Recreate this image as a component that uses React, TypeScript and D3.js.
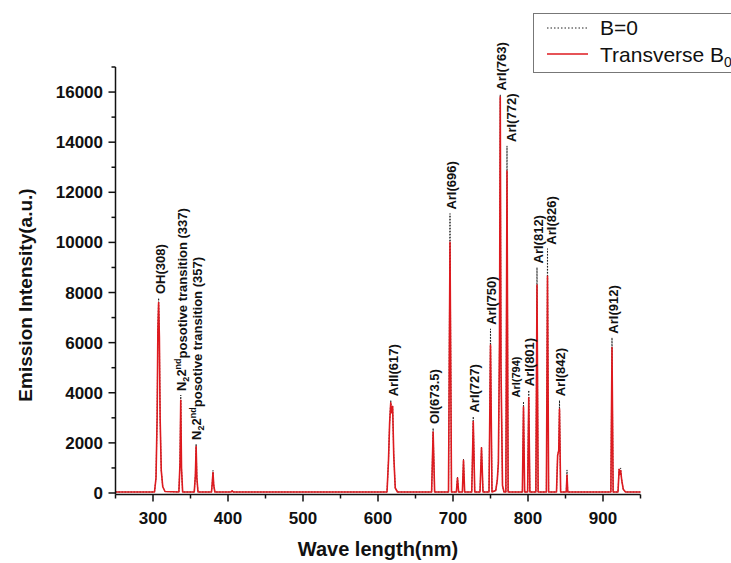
import React from "react";
import * as d3 from "d3";

// ---- data ----
const wavelength = [
  250, 302, 304, 305.5, 306.5, 307.5, 308.5, 309.5, 311, 313, 316,
  334.5, 336, 337, 338, 339.5,
  355, 356.5, 357.5, 358.5, 360,
  378, 379, 380, 381, 382.5,
  404, 405.5, 407,
  612, 614, 615.5, 617, 618, 619.5, 621, 623, 626,
  671.5, 673.5, 675.5,
  694, 696, 698,
  704.5, 706, 707.5,
  712.5, 714, 715.5,
  725, 727, 729,
  736, 738, 740,
  748, 750, 752,
  757, 759, 760.5, 762, 763, 764, 766, 768,
  770.5, 772, 773.5,
  792.5, 794, 795.5,
  799.5, 801, 802.5,
  810.5, 812, 813.5,
  824.5, 826, 827.5,
  838, 839.5, 841, 842, 843.5,
  851, 852, 853,
  910.5, 912, 913.5,
  920, 921.5, 922.5, 923.5, 925, 927, 930, 950,
];
const transverse = [
  40, 40, 600, 3000, 6500, 7600, 6200, 3000, 900, 250, 60,
  40, 1200, 3700, 1000, 40,
  40, 700, 1850, 600, 40,
  40, 400, 820, 300, 40,
  40, 90, 40,
  40, 1300, 2800, 3600, 3200, 3450, 1500, 200, 40,
  40, 2430, 40,
  40, 10000, 40,
  40, 600, 40,
  40, 1300, 40,
  40, 2850, 40,
  40, 1800, 40,
  40, 5900, 40,
  100, 500, 1200, 6000, 15800, 5000, 300, 40,
  40, 12850, 40,
  40, 3430, 40,
  40, 3800, 40,
  40, 8300, 40,
  40, 8650, 40,
  40, 1500, 1700, 3350, 40,
  40, 720, 40,
  40, 5800, 40,
  40, 950, 750, 900, 500, 150, 40, 40,
];
const bZero = [
  40, 40, 600, 3000, 6600, 7780, 6300, 3000, 900, 250, 60,
  40, 1200, 3910, 1000, 40,
  40, 700, 1960, 600, 40,
  40, 400, 900, 300, 40,
  40, 90, 40,
  40, 1300, 2800, 3700, 3250, 3500, 1500, 200, 40,
  40, 2590, 40,
  40, 11150, 40,
  40, 650, 40,
  40, 1350, 40,
  40, 3050, 40,
  40, 1850, 40,
  40, 6550, 40,
  100, 500, 1200, 6000, 15900, 5000, 300, 40,
  40, 13850, 40,
  40, 3650, 40,
  40, 4100, 40,
  40, 9000, 40,
  40, 9750, 40,
  40, 1500, 1700, 3700, 40,
  40, 920, 40,
  40, 6200, 40,
  40, 950, 800, 1000, 500, 150, 40, 40,
];

const labelWl = [308, 337, 357, 617, 673.5, 696, 727, 750, 763, 772, 794, 801, 812, 826, 842, 912];
const labelText = [
  "OH(308)", "N2_337", "N2_357", "ArII(617)", "OI(673.5)", "ArI(696)", "ArI(727)", "ArI(750)",
  "ArI(763)", "ArI(772)", "ArI(794)", "ArI(801)", "ArI(812)", "ArI(826)", "ArI(842)", "ArI(912)",
];

const xTicks = [300, 400, 500, 600, 700, 800, 900];
const xMinor = [250, 350, 450, 550, 650, 750, 850, 950];
const yTicks = [0, 2000, 4000, 6000, 8000, 10000, 12000, 14000, 16000];
const yMinor = [1000, 3000, 5000, 7000, 9000, 11000, 13000, 15000, 17000];

const legendNames = ["B=0", "Transverse B"];

const W = 731;
const H = 563;
const FONT = "'Liberation Sans', Arial, Helvetica, sans-serif";
const RED = "#de1a1f";

const labelShift: Record<string, number> = {
  "ArI(794)": -7,
  "ArI(826)": 4,
  "ArI(772)": 4,
  "ArII(617)": 3,
};

export default function App() {
  const x = d3.scaleLinear().domain([250, 950]).range([115.5, 640.5]);
  const y = d3.scaleLinear().domain([-60, 17000]).range([494.5, 67]);

  const pts = wavelength.map((w, i) => ({ w, t: transverse[i], b: bZero[i] }));
  const lineT = d3.line<any>().x((d) => x(d.w)).y((d) => y(d.t))(pts) || "";
  const lineB = d3.line<any>().x((d) => x(d.w)).y((d) => y(d.b))(pts) || "";

  const peakB = (wl: number) => {
    let best = 0;
    wavelength.forEach((w, i) => {
      if (Math.abs(w - wl) <= 1.2) best = Math.max(best, bZero[i]);
    });
    return best;
  };

  const x0 = 115.5;
  const yAxisY = 494.5;

  const renderLabel = (txt: string, wl: number, i: number) => {
    const small = txt === "ArI(794)";
    const fs = small ? 11 : 13;
    const dx = labelShift[txt] ?? 1;
    const px = x(wl) + dx + fs * 0.36;
    const py = y(peakB(wl)) - 4;
    const common = {
      key: i,
      transform: `translate(${px},${py}) rotate(-90)`,
      fontFamily: FONT,
      fontWeight: "bold" as const,
      fontSize: fs,
      fill: "#111",
    };
    if (txt.startsWith("N2_")) {
      const num = txt.slice(3);
      return (
        <text {...common}>
          N
          <tspan fontSize={9} dy={3}>2</tspan>
          <tspan dy={-3}>2</tspan>
          <tspan fontSize={9} dy={-5}>nd</tspan>
          <tspan dy={6}>{`posotive transition (${num})`}</tspan>
        </text>
      );
    }
    return <text {...common}>{txt}</text>;
  };

  return (
    <div style={{ position: "absolute", left: 0, top: 0 }}>
      <svg width={W} height={H} style={{ display: "block", background: "#fff" }}>
        {/* series */}
        <path d={lineB} fill="none" stroke="#222" strokeWidth={1} strokeDasharray="1.5,1.5" />
        <path d={lineT} fill="none" stroke={RED} strokeWidth={1.6} strokeLinejoin="round" />

        {/* axes */}
        <g stroke="#111" strokeWidth={1.5}>
          <line x1={x0} x2={x0} y1={y(17000)} y2={yAxisY} />
          <line x1={x0} x2={x(950)} y1={yAxisY} y2={yAxisY} />
          {xTicks.map((t) => (
            <line key={"xt" + t} x1={x(t)} x2={x(t)} y1={yAxisY} y2={yAxisY + 7} />
          ))}
          {xMinor.map((t) => (
            <line key={"xm" + t} x1={x(t)} x2={x(t)} y1={yAxisY} y2={yAxisY + 4} />
          ))}
          {yTicks.map((t) => (
            <line key={"yt" + t} x1={x0 - 7} x2={x0} y1={y(t)} y2={y(t)} />
          ))}
          {yMinor.map((t) => (
            <line key={"ym" + t} x1={x0 - 4} x2={x0} y1={y(t)} y2={y(t)} />
          ))}
        </g>
        <g fontFamily={FONT} fontWeight="bold" fontSize={17} fill="#111">
          {xTicks.map((t) => (
            <text key={"xl" + t} x={x(t)} y={524} textAnchor="middle">{t}</text>
          ))}
          {yTicks.map((t) => (
            <text key={"yl" + t} x={103} y={y(t) + 6} textAnchor="end">{t}</text>
          ))}
        </g>
        <text x={(x(250) + x(950)) / 2} y={556} textAnchor="middle" fontFamily={FONT} fontWeight="bold" fontSize={20} fill="#111">
          Wave length(nm)
        </text>
        <text transform={`translate(32,295) rotate(-90)`} textAnchor="middle" fontFamily={FONT} fontWeight="bold" fontSize={19} fill="#111">
          Emission Intensity(a.u.)
        </text>

        {/* peak labels */}
        {labelText.map((t, i) => renderLabel(t, labelWl[i], i))}

        {/* legend */}
        <rect x={533.5} y={13.5} width={220} height={59} fill="#fff" stroke="#777" strokeWidth={1} />
        <line x1={547} x2={588} y1={28} y2={28} stroke="#222" strokeWidth={1} strokeDasharray="1.5,2" />
        <line x1={547} x2={588} y1={54} y2={54} stroke={RED} strokeWidth={1.5} />
        <text x={600} y={35} fontFamily={FONT} fontSize={21} fill="#111">{legendNames[0]}</text>
        <text x={600} y={62} fontFamily={FONT} fontSize={21} fill="#111">
          {legendNames[1]}
          <tspan fontSize={14} dy={5}>0</tspan>
        </text>
      </svg>
    </div>
  );
}
